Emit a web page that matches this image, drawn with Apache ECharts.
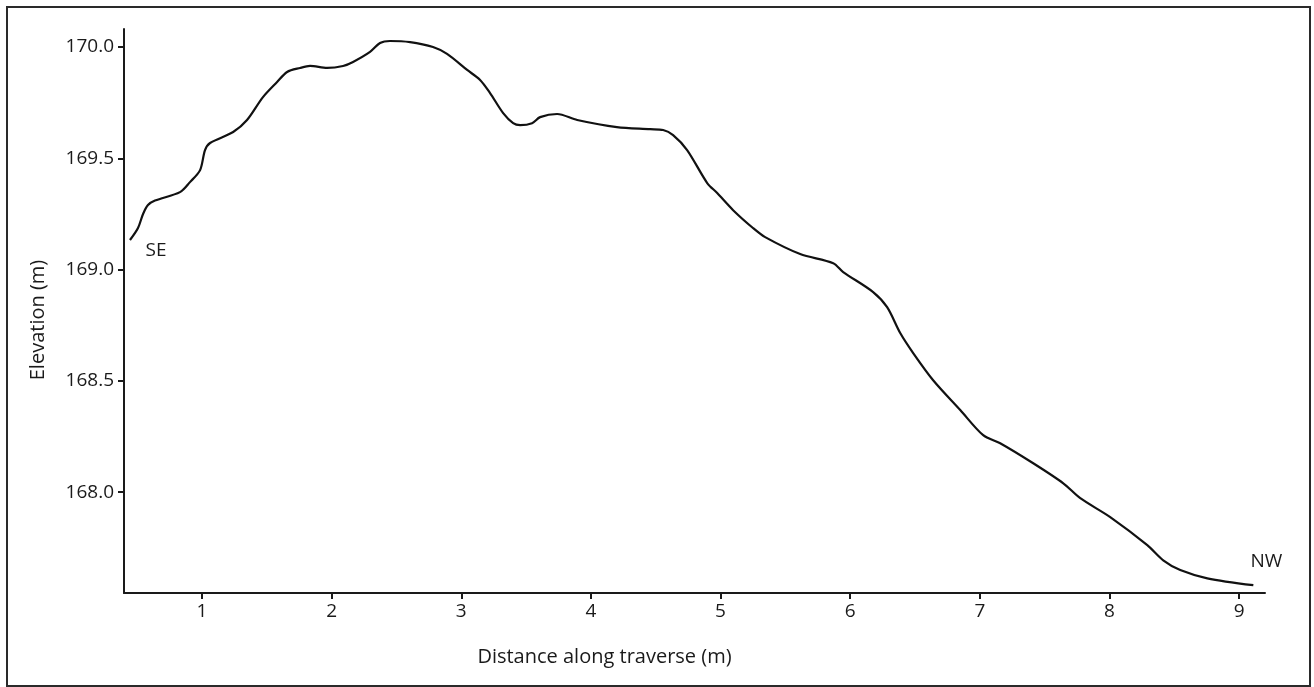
<!DOCTYPE html>
<html>
<head>
<meta charset="utf-8">
<script src="https://cdn.jsdelivr.net/npm/echarts@6/dist/echarts.min.js"></script>
<style>
html,body{margin:0;padding:0;background:#fff;}
#chart{width:1314px;height:687px;}
</style>
</head>
<body>
<div id="chart"></div>
<script>
const distance = [0.444, 0.506, 0.545, 0.583, 0.637, 0.83, 0.907, 0.985, 1.023, 1.062, 1.24, 1.347, 1.47, 1.579, 1.656, 1.756, 1.833, 1.965, 2.088, 2.165, 2.296, 2.373, 2.45, 2.605, 2.782, 2.89, 3.045, 3.145, 3.222, 3.323, 3.4, 3.454, 3.546, 3.608, 3.739, 3.894, 4.2, 4.457, 4.557, 4.634, 4.742, 4.897, 4.974, 5.097, 5.25, 5.344, 5.614, 5.869, 5.946, 6.177, 6.285, 6.386, 6.486, 6.64, 6.849, 7.026, 7.157, 7.412, 7.644, 7.775, 8.006, 8.292, 8.415, 8.546, 8.755, 9.11];
const elevation = [169.133, 169.187, 169.25, 169.29, 169.31, 169.348, 169.393, 169.447, 169.537, 169.569, 169.618, 169.672, 169.775, 169.843, 169.888, 169.906, 169.915, 169.906, 169.915, 169.933, 169.978, 170.018, 170.027, 170.022, 170.0, 169.969, 169.897, 169.852, 169.793, 169.703, 169.658, 169.649, 169.658, 169.685, 169.699, 169.672, 169.64, 169.631, 169.627, 169.604, 169.537, 169.389, 169.344, 169.267, 169.187, 169.146, 169.07, 169.029, 168.989, 168.899, 168.831, 168.715, 168.625, 168.503, 168.369, 168.256, 168.22, 168.13, 168.04, 167.973, 167.888, 167.762, 167.694, 167.65, 167.613, 167.582];
const xTicks = [1, 2, 3, 4, 5, 6, 7, 8, 9];
const yTicks = [168.0, 168.5, 169.0, 169.5, 170.0];
const endLabels = ['SE', 'NW'];
const xTitle = 'Distance along traverse (m)';
const yTitle = 'Elevation (m)';

const FONT = '"Open Sans", "Noto Sans", sans-serif';
const TXT = '#1a1a1a';
const chart = echarts.init(document.getElementById('chart'), null, {renderer: 'canvas'});

const lineData = distance.map((d, i) => [d, elevation[i]]);
const last = distance.length - 1;

const option = {
  animation: false,
  backgroundColor: '#ffffff',
  grid: {left: 124, right: 49, top: 29, bottom: 94, containLabel: false},
  xAxis: {
    type: 'value',
    min: 0.398,
    max: 9.2,
    interval: 1,
    name: xTitle,
    nameLocation: 'middle',
    nameGap: 54,
    nameTextStyle: {fontFamily: FONT, fontSize: 20, color: TXT, padding: [0, 180, 0, 0]},
    axisLine: {show: true, lineStyle: {color: TXT, width: 2}},
    axisTick: {show: true, length: 6, lineStyle: {color: TXT, width: 2},
      customValues: xTicks},
    axisLabel: {fontFamily: FONT, fontSize: 19, color: TXT, margin: 9,
      customValues: xTicks, formatter: v => String(Math.round(v))},
    splitLine: {show: false}
  },
  yAxis: {
    type: 'value',
    min: 167.547,
    max: 170.081,
    name: yTitle,
    nameLocation: 'middle',
    nameGap: 76,
    nameRotate: 90,
    nameTextStyle: {fontFamily: FONT, fontSize: 20, color: TXT, padding: [0, 18, 0, 0]},
    axisLine: {show: true, lineStyle: {color: TXT, width: 2}},
    axisTick: {show: true, length: 6, lineStyle: {color: TXT, width: 2},
      customValues: yTicks},
    axisLabel: {fontFamily: FONT, fontSize: 19, color: TXT, margin: 10,
      customValues: yTicks, formatter: v => v.toFixed(1)},
    splitLine: {show: false}
  },
  series: [{
    type: 'line',
    data: lineData,
    smooth: 0.3,
    symbol: 'none',
    showSymbol: false,
    lineStyle: {color: '#111111', width: 2.2},
    z: 5,
    markPoint: {
      symbol: 'circle',
      symbolSize: 0,
      silent: true,
      label: {show: true, fontFamily: FONT, fontSize: 19, color: TXT},
      data: [
        {coord: lineData[0], label: {formatter: endLabels[0], position: 'inside', offset: [26, 11]}},
        {coord: lineData[last], label: {formatter: endLabels[1], position: 'inside', offset: [13, -24]}}
      ]
    }
  }],
  graphic: [{
    type: 'rect',
    shape: {x: 7, y: 7, width: 1303, height: 679},
    style: {fill: null, stroke: '#2a2a2a', lineWidth: 2},
    silent: true
  }]
};
chart.setOption(option);
</script>
</body>
</html>
